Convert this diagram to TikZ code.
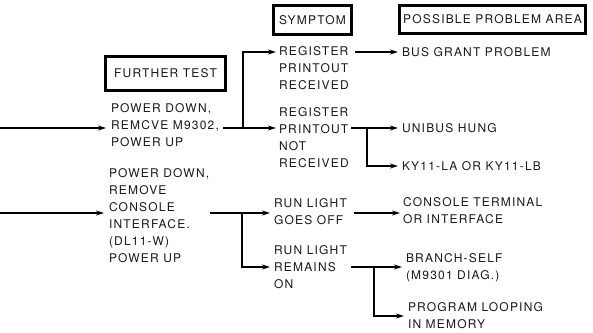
\documentclass[tikz,border=0pt]{standalone}
\usepackage{fontspec}
\setmainfont{TeX Gyre Heros}[LetterSpace=10]
\usetikzlibrary{arrows.meta}
\begin{document}
\begin{tikzpicture}[x=1pt,y=-1pt,
  txt/.style={anchor=west,inner sep=0pt,outer sep=0pt,align=left,text=black!90,font=\fontsize{12}{17}\selectfont},
  hdr/.style={draw,line width=3pt,inner sep=0pt,text=black!90,font=\fontsize{12}{14}\selectfont},
  conn/.style={line width=1.5pt},
  arr/.style={conn,-{Stealth[length=8pt,width=5pt]}}
]
\useasboundingbox (0,0) rectangle (593,332);

% headers
\node[hdr,minimum width=120,minimum height=34] (hft) at (165.5,73.5) {FURTHER TEST};
\node[hdr,minimum width=78,minimum height=29] (hsym) at (312.5,20) {SYMPTOM};
\node[hdr,minimum width=186,minimum height=28] (hppa) at (492.5,19.5) {POSSIBLE PROBLEM AREA};

% further tests
\node[txt] (t1) at (111,125.5) {POWER DOWN,\\REMCVE M9302,\\POWER UP};
\node[txt] (t2) at (109,216) {POWER DOWN,\\REMOVE\\CONSOLE\\INTERFACE.\\(DL11-W)\\POWER UP};

% symptoms
\node[txt] (s1) at (279,68.5) {REGISTER\\PRINTOUT\\RECEIVED};
\node[txt] (s2) at (279,137.5) {REGISTER\\PRINTOUT\\NOT\\RECEIVED};
\node[txt] (s3) at (274,211.5) {RUN LIGHT\\GOES OFF};
\node[txt] (s4) at (274,267) {RUN LIGHT\\REMAINS\\ON};

% problem areas
\node[txt] (p1) at (402,52) {BUS GRANT PROBLEM};
\node[txt] (p2) at (402,128) {UNIBUS HUNG};
\node[txt] (p3) at (402,166) {KY11-LA OR KY11-LB};
\node[txt] (p4) at (403,210.5) {CONSOLE TERMINAL\\OR INTERFACE};
\node[txt] (p5) at (406,268) {BRANCH-SELF\\(M9301 DIAG.)};
\node[txt] (p6) at (408,316) {PROGRAM LOOPING\\IN MEMORY};

% coordinates
\coordinate (in1) at (0,128);
\coordinate (in2) at (0,213);
\coordinate (j1) at (243,128);
\coordinate (j2) at (367,128);
\coordinate (j3) at (242,213);
\coordinate (j4) at (374,267);

% connectors: first test
\draw[arr] (in1) -- ([xshift=-5]t1.west |- in1);
\draw[conn] ([xshift=4]t1.east |- in1) -- (j1);
\draw[arr] (j1) |- ([xshift=-3]s1.west |- p1.west);
\draw[arr] (j1) -- ([xshift=-3]s2.west |- j1);
\draw[arr] ([xshift=6]s1.east |- p1.west) -- ([xshift=-4]p1.west);
\draw[conn] ([xshift=2]s2.east |- j2) -- (j2);
\draw[arr] (j2) -- ([xshift=-4]p2.west);
\draw[arr] (j2) |- ([xshift=-4]p3.west);

% connectors: second test
\draw[arr] (in2) -- ([xshift=-5]t2.west |- in2);
\draw[conn] ([xshift=1]t2.east |- in2) -- (j3);
\draw[arr] (j3) -- ([xshift=-4]s3.west |- j3);
\draw[arr] (j3) |- ([xshift=-4]s4.west |- j4);
\draw[arr] ([xshift=7]s3.east |- in2) -- ([xshift=-3]p4.west |- in2);
\draw[conn] ([xshift=4]s4.east |- j4) -- (j4);
\draw[arr] (j4) -- ([xshift=-4]p5.west |- j4);
\draw[arr] (j4) |- ([xshift=-4]p6.west);
\end{tikzpicture}
\end{document}
